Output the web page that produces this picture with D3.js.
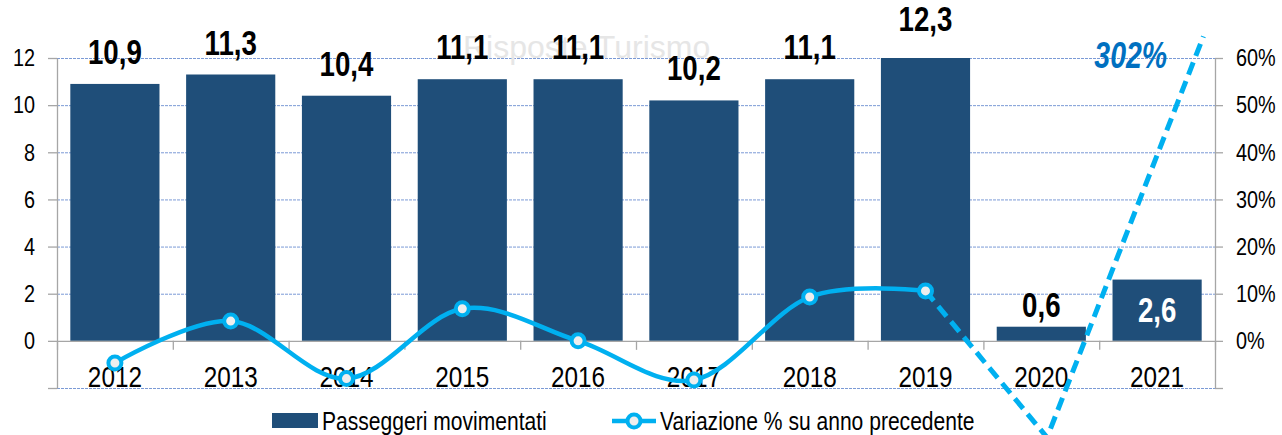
<!DOCTYPE html>
<html>
<head>
<meta charset="utf-8">
<title>Passeggeri movimentati</title>
<script src="https://cdn.jsdelivr.net/npm/d3@7"></script>
<style>
  body { margin: 0; background: #fff; }
  svg { display: block; font-family: "Liberation Sans", Arial, sans-serif; }
  .grid line { stroke: #7b9ad6; stroke-width: 1; stroke-dasharray: 3,1; }
  .grid path { display: none; }
  .axis line, .axis path { stroke: #a6a6a6; stroke-width: 1.3; }
  .axis text { fill: #000; font-size: 24.5px; }
</style>
</head>
<body>
<svg width="1282" height="435"></svg>
<script>

// data
const years = ["2012", "2013", "2014", "2015", "2016", "2017", "2018", "2019", "2020", "2021"];
const passengers = [10.9, 11.3, 10.4, 11.1, 11.1, 10.2, 11.1, 12.3, 0.6, 2.6];
const variation = [-4.7, 4.2, -8.0, 6.8, 0.0, -8.3, 9.3, 10.6];   // % su anno precedente (2012-2019)
const jumpLabel = "302%";
// dashed break line after 2019: [category index, %]
const breakPath = [[7, 10.6], [8.05, -20.5], [9.4, 64.6]];
const leftTicks = [-2, 0, 2, 4, 6, 8, 10, 12];
const rightTicks = [-10, 0, 10, 20, 30, 40, 50, 60];

const barColor = "#1f4e79";
const lineColor = "#00b0f0";

const svg = d3.select("svg");
const x0 = 57, x1 = 1215, yTop = 58, yBot = 388;

const x = d3.scaleBand().domain(years).range([x0, x1]).paddingInner(0.23).paddingOuter(0.115);
const xPos = d3.scaleLinear().domain([0, years.length]).range([x0, x1]);
const y = d3.scaleLinear().domain([-2, 12]).range([yBot, yTop]);
const yc = y.copy().clamp(true);
const yPct = d3.scaleLinear().domain([-10, 60]).range([yBot, yTop]);
const fmt = v => String(v.toFixed(1)).replace(".", ",");

// gridlines
svg.append("g").attr("class", "grid")
  .attr("transform", `translate(${x0},0)`)
  .call(d3.axisLeft(y).tickValues(leftTicks.filter(d => d !== 0)).tickSize(-(x1 - x0)).tickFormat(""));

// watermark
svg.append("text")
  .attr("x", 463).attr("y", 58)
  .style("font-size", "32px")
  .attr("fill", "#e6e6e6")
  .text("Risposte Turismo");

// bars
svg.append("g").selectAll("rect")
  .data(passengers)
  .join("rect")
  .attr("x", (d, i) => x(years[i]))
  .attr("width", x.bandwidth())
  .attr("y", d => yc(d))
  .attr("height", d => y(0) - yc(d))
  .attr("fill", barColor);

// axes
svg.append("g").attr("class", "axis")
  .attr("transform", `translate(${x0},0)`)
  .call(d3.axisLeft(y).tickValues(leftTicks).tickSize(9).tickSizeOuter(0).tickPadding(13)
    .tickFormat(d => d < 0 ? "" : d));

svg.append("g").attr("class", "axis")
  .attr("transform", `translate(${x1},0)`)
  .call(d3.axisRight(yPct).tickValues(rightTicks).tickSize(8).tickSizeOuter(0).tickPadding(13)
    .tickFormat(d => d < 0 ? "" : d + "%"));

svg.append("g").attr("class", "axis")
  .attr("transform", `translate(0,${y(0)})`)
  .call(d3.axisBottom(xPos).tickValues(d3.range(0, years.length + 1)).tickSize(9).tickSizeOuter(0).tickFormat(""));

// year labels
svg.append("g").selectAll("text")
  .data(years)
  .join("text")
  .attr("class", "n")
  .attr("x", d => x(d) + x.bandwidth() / 2)
  .attr("y", 387)
  .attr("text-anchor", "middle")
  .style("font-size", "30px")
  .text(d => d);

// variation line
const line = d3.line()
  .x((d, i) => xPos(i + 0.5))
  .y(d => yPct(d))
  .curve(d3.curveCardinal.tension(0));

svg.append("path")
  .datum(variation)
  .attr("d", line)
  .attr("fill", "none")
  .attr("stroke", lineColor)
  .attr("stroke-width", 4.5);

svg.append("path")
  .datum(breakPath)
  .attr("d", d3.line().x(d => xPos(d[0] + 0.5)).y(d => yPct(d[1])))
  .attr("fill", "none")
  .attr("stroke", lineColor)
  .attr("stroke-width", 5)
  .attr("stroke-dasharray", "13,7");

svg.append("g").selectAll("circle")
  .data(variation)
  .join("circle")
  .attr("cx", (d, i) => xPos(i + 0.5))
  .attr("cy", d => yPct(d))
  .attr("r", 6.5)
  .attr("fill", "#eeeeee")
  .attr("stroke", lineColor)
  .attr("stroke-width", 4);

// data labels
const last = passengers.length - 1;
svg.append("g").selectAll("text")
  .data(passengers)
  .join("text")
  .attr("class", "n b")
  .attr("x", (d, i) => x(years[i]) + x.bandwidth() / 2)
  .attr("y", (d, i) => i === last ? (y(d) + y(0)) / 2 + 12 : y(d) - (d < 1 ? 10 : 20))
  .attr("text-anchor", "middle")
  .style("font-size", "35px")
  .style("font-weight", "bold")
  .attr("fill", (d, i) => i === last ? "#fff" : "#000")
  .text(d => fmt(d));

svg.append("text")
  .attr("class", "n b")
  .attr("x", xPos(last + 0.5) + 10)
  .attr("y", yPct(60) + 10)
  .attr("text-anchor", "end")
  .style("font-size", "36px")
  .style("font-weight", "bold")
  .style("font-style", "italic")
  .attr("fill", "#0070c0")
  .text(jumpLabel);

// legend
const legend = svg.append("g");
legend.append("rect")
  .attr("x", 272).attr("y", 413).attr("width", 46).attr("height", 15)
  .attr("fill", barColor);
legend.append("text")
  .attr("class", "n")
  .attr("x", 322).attr("y", 430)
  .style("font-size", "26px")
  .text("Passeggeri movimentati");
legend.append("line")
  .attr("x1", 612).attr("x2", 656).attr("y1", 421).attr("y2", 421)
  .attr("stroke", lineColor).attr("stroke-width", 4.5);
legend.append("circle")
  .attr("cx", 634).attr("cy", 421).attr("r", 6.5)
  .attr("fill", "#eeeeee").attr("stroke", lineColor).attr("stroke-width", 4);
legend.append("text")
  .attr("class", "n")
  .attr("x", 660).attr("y", 430)
  .style("font-size", "26px")
  .text("Variazione % su anno precedente");

// no narrow font installed: squeeze the texts like Arial Narrow
svg.selectAll("text.n, .axis text").each(function () {
  const w = this.getComputedTextLength();
  const k = this.classList.contains("b") ? 0.79 : 0.81;
  if (w > 0) d3.select(this).attr("textLength", w * k).attr("lengthAdjust", "spacingAndGlyphs");
});

</script>
</body>
</html>
